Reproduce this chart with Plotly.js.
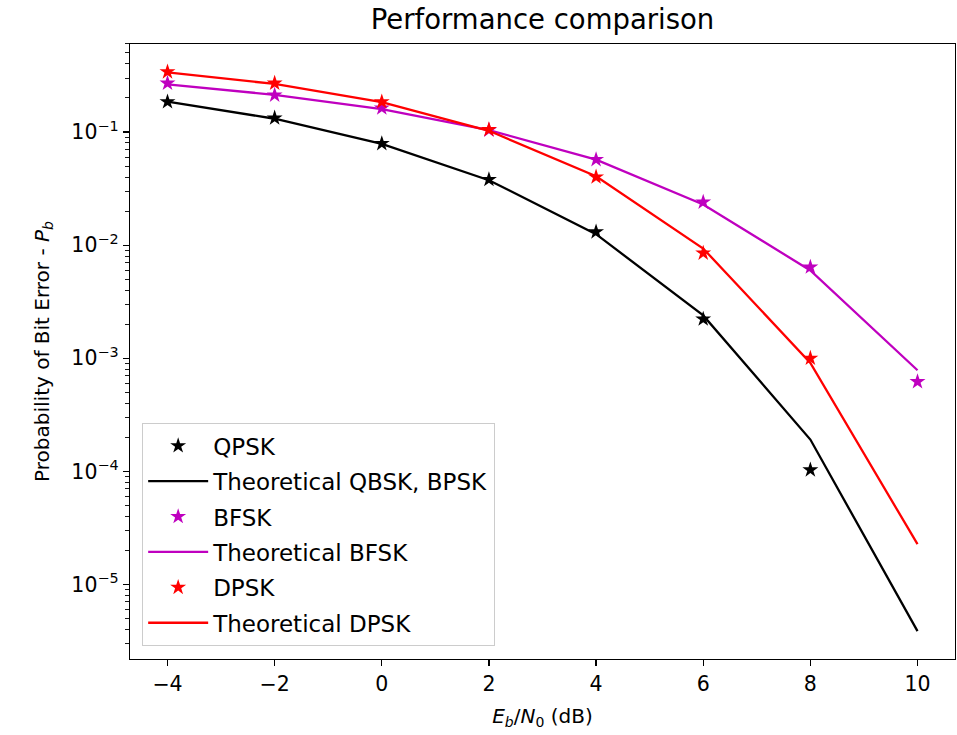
<!DOCTYPE html>
<html>
<head>
<meta charset="utf-8">
<script src="https://cdn.plot.ly/plotly-3.0.1.min.js"></script>
<style>html,body{margin:0;padding:0;background:#fff;}#chart{width:957px;height:735px;}</style>
</head>
<body>
<div id="chart"></div>
<script>
var ebn0 = [-4, -2, 0, 2, 4, 6, 8, 10];
var ebn0Sim = [-4, -2, 0, 2, 4, 6, 8];
var qpskSim = [0.185, 0.133, 0.079, 0.038, 0.0131, 0.00222, 0.000103];
var qpskTheory = [0.186, 0.131, 0.0786, 0.0375, 0.0125, 0.00239, 0.000191, 0.00000387];
var bfskSim = [0.27, 0.212, 0.163, 0.104, 0.057, 0.024, 0.0064, 0.00062];
var bfskTheory = [0.264, 0.213, 0.159, 0.104, 0.0569, 0.0229, 0.00597, 0.000783];
var dpskSim = [0.34, 0.27, 0.185, 0.105, 0.040, 0.0085, 0.00100];
var dpskTheory = [0.336, 0.266, 0.184, 0.1025, 0.0406, 0.00933, 0.000909, 0.0000227];
var yTickVals = [1e-1, 1e-2, 1e-3, 1e-4, 1e-5];
var yTickText = ['10<sup>−1</sup>', '10<sup>−2</sup>', '10<sup>−3</sup>', '10<sup>−4</sup>', '10<sup>−5</sup>'];
var xTickVals = [-4, -2, 0, 2, 4, 6, 8, 10];

var FONT = 'DejaVu Sans, sans-serif';
function star(x, y, c, name) {
  return {x: x, y: y, name: name, legendgroup: name, mode: 'markers', type: 'scatter',
    marker: {symbol: 'star', size: 12, color: c, line: {width: 0}}};
}
function line(x, y, c, name) {
  return {x: x, y: y, name: name, legendgroup: name, mode: 'lines', type: 'scatter',
    line: {color: c, width: 2.3}};
}
var data = [
  star(ebn0Sim, qpskSim, '#000000', 'QPSK'),
  line(ebn0, qpskTheory, '#000000', 'Theoretical QBSK, BPSK'),
  star(ebn0, bfskSim, '#bf00bf', 'BFSK'),
  line(ebn0, bfskTheory, '#bf00bf', 'Theoretical BFSK'),
  star(ebn0Sim, dpskSim, '#ff0000', 'DPSK'),
  line(ebn0, dpskTheory, '#ff0000', 'Theoretical DPSK')
];
var layout = {
  width: 957, height: 735,
  margin: {l: 130, r: 2, t: 44, b: 76},
  paper_bgcolor: '#fff', plot_bgcolor: '#fff',
  font: {family: FONT, size: 20, color: '#000'},
  showlegend: true,
  title: {text: 'Performance comparison', font: {family: FONT, size: 27.5, color: '#000'},
    x: 0.5, xref: 'paper', xanchor: 'center', y: 0.973, yref: 'container', yanchor: 'middle'},
  xaxis: {
    range: [-4.7, 10.7], tickvals: xTickVals,
    showgrid: false, zeroline: false,
    showline: true, mirror: true, linecolor: '#000', linewidth: 1.3,
    ticks: 'outside', ticklen: 6, tickwidth: 1.2, tickcolor: '#000',
    tickfont: {family: FONT, size: 20.5, color: '#000'},
    title: {text: '<i>E</i><sub><i>b</i></sub>/<i>N</i><sub>0</sub> (dB)', font: {family: FONT, size: 20, color: '#000'}, standoff: 14}
  },
  yaxis: {
    type: 'log', range: [-5.659, -0.222],
    tickvals: yTickVals, ticktext: yTickText,
    showgrid: false, zeroline: false,
    showline: true, mirror: true, linecolor: '#000', linewidth: 1.3,
    ticks: 'outside', ticklen: 6, tickwidth: 1.2, tickcolor: '#000',
    tickfont: {family: FONT, size: 20.5, color: '#000'},
    minor: {ticks: 'outside', ticklen: 3.5, tickwidth: 0.9, tickcolor: '#000', dtick: 'D1', showgrid: false},
    title: {text: 'Probability of Bit Error - <i>P</i><sub><i>b</i></sub>', font: {family: FONT, size: 20, color: '#000'}, standoff: 16}
  },
  legend: {
    x: 0.0145, y: 0.021, xanchor: 'left', yanchor: 'bottom',
    bgcolor: 'rgba(255,255,255,0.8)', bordercolor: '#cccccc', borderwidth: 1.2,
    font: {family: FONT, size: 23, color: '#000'},
    itemwidth: 60, tracegroupgap: 2.5
  }
};
Plotly.newPlot('chart', data, layout, {displayModeBar: false, staticPlot: true});
</script>
</body>
</html>
